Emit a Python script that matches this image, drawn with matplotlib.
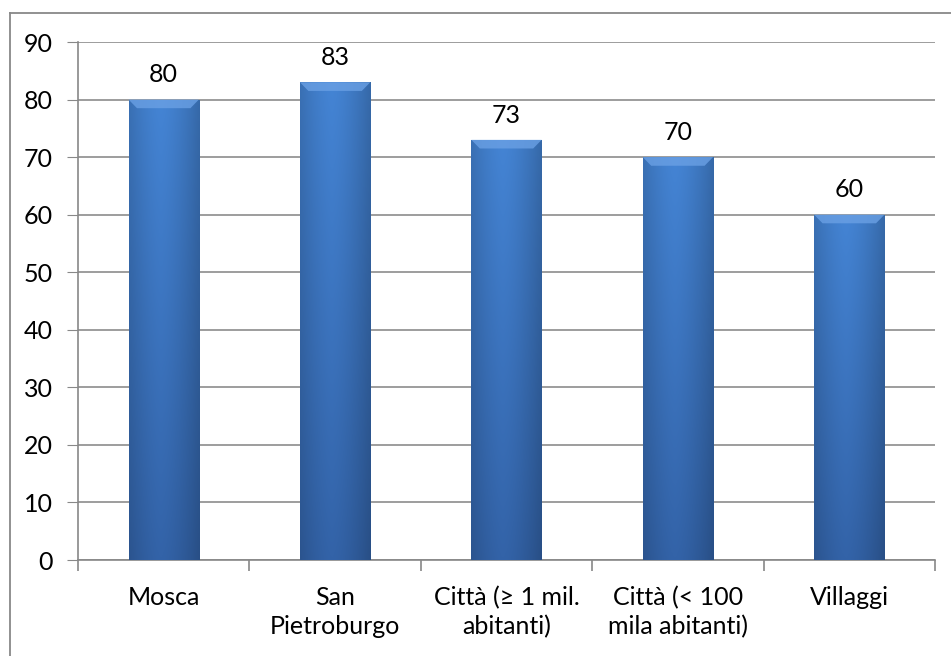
import numpy as np
import matplotlib.pyplot as plt
from matplotlib.patches import Polygon

plt.rcParams['font.family'] = ['Lato', 'DejaVu Sans']

categories = ["Mosca", "San\nPietroburgo", "Città (≥ 1 mil.\nabitanti)",
              "Città (< 100\nmila abitanti)", "Villaggi"]
values = [80, 83, 73, 70, 60]

fig = plt.figure(figsize=(9.51, 6.56), dpi=100)
ax = fig.add_axes([78 / 951, 96 / 656, 857 / 951, 518 / 656])

x = np.arange(len(categories))
bars = ax.bar(x, values, width=0.41, color="#3f7cc8", zorder=3)

# gradient fill for each bar (darker edges, darker bottom)
h = np.linspace(0, 1, 60)
prof = 1 - 0.25 * np.abs(h - 0.45) ** 1.5 * 2
v = np.linspace(0, 1, 100)[:, None]
top = np.array([0x44, 0x84, 0xd4]) / 255
bot = np.array([0x33, 0x63, 0xa8]) / 255
col = bot + (top - bot) * v
img = col[:, None, :] * prof[None, :, None]
img = np.clip(img, 0, 1)
for b in bars:
    bx, by, bw, bh = b.get_x(), b.get_y(), b.get_width(), b.get_height()
    im = ax.imshow(img, extent=[bx, bx + bw, by, by + bh], origin="lower",
                   aspect="auto", zorder=4)
    im.set_clip_path(b)
    # light bevel at top
    t = by + bh
    d = 1.5
    ax.add_patch(Polygon([(bx, t), (bx + bw, t), (bx + bw - bw * 0.12, t - d),
                          (bx + bw * 0.12, t - d)], closed=True,
                         facecolor="#6aa0e4", edgecolor="none", alpha=0.8,
                         zorder=5))

for xi, val in zip(x, values):
    ax.text(xi, val + 2.3, str(val), ha="center", va="bottom", fontsize=18,
            color="black")

ax.set_xlim(-0.5, len(categories) - 0.5)
ax.set_ylim(0, 90)
ax.set_yticks(range(0, 91, 10))
ax.tick_params(axis="y", labelsize=18, length=8, color="#888888", pad=10)
ax.set_xticks(x)
ax.set_xticklabels(categories, fontsize=18, linespacing=1.3)
ax.tick_params(axis="x", length=0, pad=19)
ax.set_xticks(np.arange(-0.5, len(categories), 1), minor=True)
ax.tick_params(axis="x", which="minor", length=8, color="#888888", width=1.2)

ax.yaxis.grid(True, color="#8c8c8c", linewidth=1.2, zorder=0)
ax.set_axisbelow(True)
for s in ["top", "right"]:
    ax.spines[s].set_visible(False)
for s in ["left", "bottom"]:
    ax.spines[s].set_color("#888888")
    ax.spines[s].set_linewidth(1.2)

# outer chart border
fig.add_artist(plt.Line2D([9.5 / 951, 9.5 / 951], [0, 1 - 12.5 / 656],
                          color="#888888", linewidth=1.3))
fig.add_artist(plt.Line2D([9.5 / 951, 1], [1 - 12.5 / 656, 1 - 12.5 / 656],
                          color="#888888", linewidth=1.3))

fig.savefig("out.png", dpi=100)
